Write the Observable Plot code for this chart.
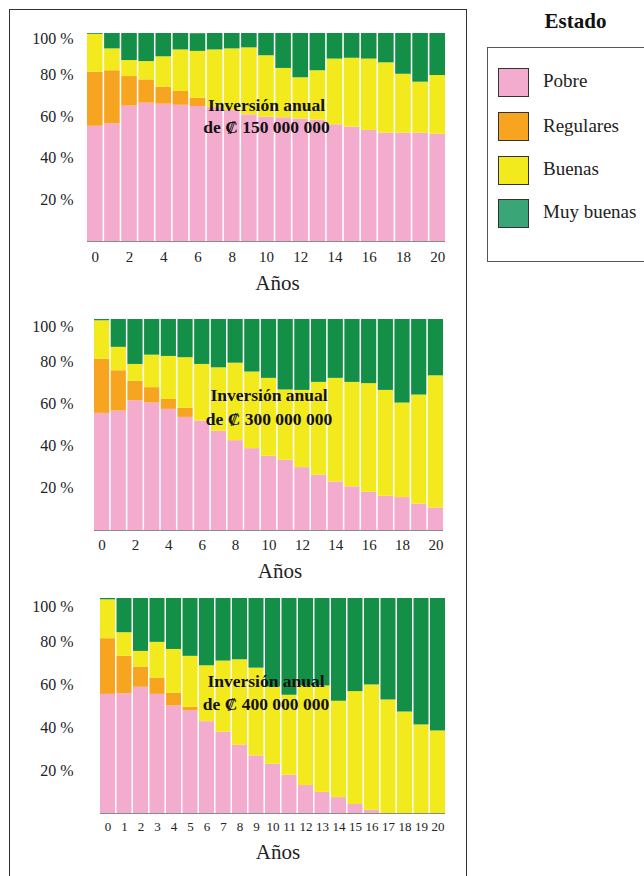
<!DOCTYPE html>
<html>
<head>
<meta charset="utf-8">
<script src="https://cdn.jsdelivr.net/npm/d3@7"></script>
<script src="https://cdn.jsdelivr.net/npm/@observablehq/plot@0.6"></script>
<style>
html, body { margin: 0; padding: 0; background: #fff; width: 644px; height: 876px; overflow: hidden;
  font-family: "Liberation Serif", "Times New Roman", serif; color: #222; }
#frame { position: absolute; left: 9px; top: 9px; width: 458px; height: 920px; border: 1px solid #333; box-sizing: border-box; }
.panel { position: absolute; left: 0; }
#legend-title { position: absolute; left: 520px; width: 111px; top: 11px; text-align: center; font-weight: bold; font-size: 21px; line-height: 21px; color: #111; }
#legend { position: absolute; left: 487px; top: 47px; width: 220px; height: 215px; border: 1px solid #555; box-sizing: border-box; }
.sw { position: absolute; left: 498px; width: 31px; height: 29px; border: 1px solid #333; box-sizing: border-box; }
.lab { position: absolute; left: 543px; font-size: 19px; line-height: 19px; white-space: nowrap; color: #222; }
</style>
</head>
<body>
<div id="frame"></div>
<div id="legend"></div>
<div id="legend-title">Estado</div>
<div id="charts"></div>
<script>
// ---- data ----
const years = [0,1,2,3,4,5,6,7,8,9,10,11,12,13,14,15,16,17,18,19,20];
const estados = ["Pobre", "Regulares", "Buenas", "Muy buenas"];
const barColors = ["#f4acce", "#f7a520", "#f3ea1e", "#138f47"];
const legendColors = ["#f4acce", "#f7a520", "#f3ea1e", "#3aa677"];
const yTicks = [20, 40, 60, 80, 100];
const evenTicks = [0,2,4,6,8,10,12,14,16,18,20];
const allTicks = years;
const notes = ["Inversión anual\nde ₡ 150 000 000", "Inversión anual\nde ₡ 300 000 000", "Inversión anual\nde ₡ 400 000 000"];
const axisTitle = "Años";

// Panel 1: 150 000 000
const p1Pobre      = [55.4,56.6,65.1,66.5,66.0,65.5,64.9,64.4,63.0,60.9,59.8,59.5,58.9,58.4,56.1,55.0,53.4,52.1,52.1,52.1,51.6];
const p1Regulares  = [26.0,25.5,14.2,11.2, 8.2, 6.6, 3.9, 0, 0, 0, 0, 0, 0, 0, 0, 0, 0, 0, 0, 0, 0];
const p1Buenas     = [18.2,10.5, 7.7, 8.8,14.6,20.0,22.6,27.7,29.6,32.2,29.5,23.7,19.8,23.7,31.6,33.1,34.3,33.8,28.3,24.5,28.2];
const p1MuyBuenas  = [ 0.4, 7.4,13.0,13.5,11.2, 7.9, 8.5, 7.9, 7.4, 6.9,10.7,16.8,21.3,17.9,12.3,11.9,12.3,14.1,19.6,23.4,20.2];

// Panel 2: 300 000 000
const p2Pobre      = [55.5,56.6,61.5,60.4,57.4,53.6,51.9,47.0,42.6,38.8,35.2,33.3,29.8,26.2,23.0,20.7,18.1,16.2,15.6,12.5,10.7];
const p2Regulares  = [25.7,19.1, 9.2, 7.3, 4.7, 4.3, 0, 0, 0, 0, 0, 0, 0, 0, 0, 0, 0, 0, 0, 0, 0];
const p2Buenas     = [18.2,11.1, 8.0,15.4,20.4,24.0,26.8,30.1,36.7,36.3,36.9,33.3,36.6,44.0,49.1,49.5,51.5,50.2,44.8,51.7,62.6];
const p2MuyBuenas  = [ 0.6,13.2,21.3,16.9,17.5,18.1,21.3,22.9,20.7,24.9,27.9,33.4,33.6,29.8,27.9,29.8,30.4,33.6,39.6,35.8,26.7];

// Panel 3: 400 000 000
const p3Pobre      = [55.4,55.7,58.7,55.4,50.0,47.7,42.7,37.8,31.7,26.8,22.9,17.8,13.0, 9.8, 7.4, 4.2, 1.5, 0, 0, 0, 0];
const p3Regulares  = [25.9,17.4, 9.4, 7.6, 5.9, 1.7, 0, 0, 0, 0, 0, 0, 0, 0, 0, 0, 0, 0, 0, 0, 0];
const p3Buenas     = [18.1,11.0, 7.3,16.6,20.4,23.7,26.0,33.1,39.8,40.8,35.9,37.2,46.3,49.5,44.8,52.5,58.3,52.8,47.2,41.2,38.4];
const p3MuyBuenas  = [ 0.6,15.9,24.6,20.4,23.7,26.9,31.3,29.1,28.5,32.4,41.2,45.0,40.7,40.7,47.8,43.3,40.2,47.2,52.8,58.8,61.6];

// ---- drawing ----
function panel(cfg) {
  const rows = [];
  estados.forEach((e, k) => cfg.series[k].forEach((v, i) => rows.push({year: years[i], estado: e, value: v})));
  const mt = 30, mb = 58, W = 470;
  const H = cfg.bottom - cfg.top + mt + mb;
  const font = {fontFamily: "Liberation Serif, Times New Roman, serif"};
  const chart = Plot.plot({
    width: W, height: H,
    marginLeft: cfg.left, marginRight: W - cfg.right, marginTop: mt, marginBottom: mb,
    style: {...font, background: "transparent", color: "#222", overflow: "visible"},
    x: {type: "band", domain: years, paddingInner: 0.09, paddingOuter: 0, round: false, label: null},
    y: {domain: [0, 100], label: null},
    color: {domain: estados, range: barColors},
    marks: [
      Plot.barY(rows, {x: "year", y: "value", fill: "estado", order: estados}),
      Plot.ruleY([0], {stroke: "#8a8a8a", strokeWidth: 1.2}),
      Plot.axisY(yTicks.filter(d => d < 100), {tickSize: 0, tickPadding: cfg.left - 73, tickFormat: d => `${d} %`, fontSize: 16, fill: "#222", label: null}),
      Plot.axisY(yTicks.filter(d => d === 100), {tickSize: 0, tickPadding: cfg.left - 73, tickFormat: d => `${d} %`, fontSize: 16, fill: "#222", dy: cfg.topDy, label: null}),
      Plot.axisX(cfg.xTicks, {tickSize: 0, tickPadding: cfg.tickPad, fontSize: cfg.xFont, fill: "#222", label: null}),
      Plot.text([cfg.note], {x: () => 10, y: () => cfg.noteY, text: d => d, dx: cfg.noteDx,
        fontSize: 17.5, fontWeight: "bold", fill: "#111", lineHeight: cfg.lh, lineAnchor: "middle"}),
      Plot.text([axisTitle], {frameAnchor: "bottom", text: d => d, dy: cfg.labelDy, dx: cfg.labelDx,
        fontSize: 21, fill: "#222", lineAnchor: "middle"})
    ]
  });
  chart.classList.add("panel");
  chart.style.top = (cfg.top - mt) + "px";
  chart.style.position = "absolute";
  chart.style.left = "0px";
  document.getElementById("charts").appendChild(chart);
}

panel({series: [p1Pobre, p1Regulares, p1Buenas, p1MuyBuenas], top: 33, bottom: 241, left: 87, right: 445,
  xTicks: evenTicks, xFont: 15, tickPad: 10, note: notes[0], noteY: 60.9, noteDx: 0, lh: 1.3,
  labelDy: 42, labelDx: 11, topDy: 5});
panel({series: [p2Pobre, p2Regulares, p2Buenas, p2MuyBuenas], top: 319, bottom: 530, left: 94, right: 443,
  xTicks: evenTicks, xFont: 15, tickPad: 8.5, note: notes[1], noteY: 59.3, noteDx: 0, lh: 1.35,
  labelDy: 41, labelDx: 11, topDy: 7});
panel({series: [p3Pobre, p3Regulares, p3Buenas, p3MuyBuenas], top: 598, bottom: 813, left: 100, right: 445,
  xTicks: allTicks, xFont: 13, tickPad: 8.5, note: notes[2], noteY: 57.0, noteDx: -7, lh: 1.3,
  labelDy: 38.5, labelDx: 5, topDy: 8});

// ---- legend ----
const swTops = [68, 112, 156, 199];
const labCenters = [81.7, 126.7, 170, 213.3];
estados.forEach((e, k) => {
  const sw = document.createElement("div");
  sw.className = "sw";
  sw.style.top = swTops[k] + "px";
  sw.style.background = legendColors[k];
  document.body.appendChild(sw);
  const lab = document.createElement("div");
  lab.className = "lab";
  lab.style.top = (labCenters[k] - 11) + "px";
  lab.textContent = e;
  document.body.appendChild(lab);
});
</script>
</body>
</html>
